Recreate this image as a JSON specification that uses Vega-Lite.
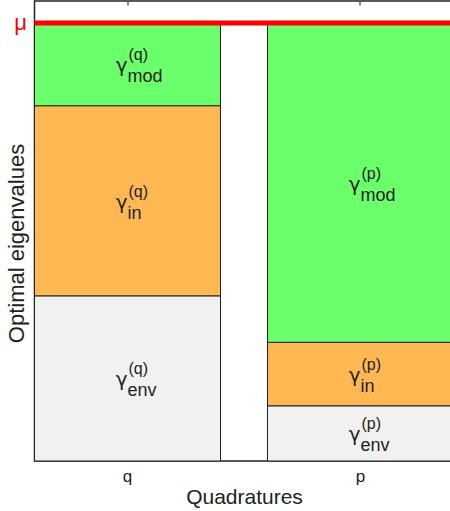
{
  "$schema": "https://vega.github.io/schema/vega-lite/v6.json",
  "width": 419,
  "height": 460,
  "autosize": "none",
  "padding": {"left": 34.5, "top": 1, "right": 0, "bottom": 50},
  "config": {
    "font": "Liberation Sans",
    "view": {"stroke": "#222", "strokeWidth": 1.5}
  },
  "datasets": {
    "parts": [
      {"quad": "q", "comp": "env", "order": 1, "value": 0.377, "sup": "(q)"},
      {"quad": "q", "comp": "in", "order": 2, "value": 0.434, "sup": "(q)"},
      {"quad": "q", "comp": "mod", "order": 3, "value": 0.189, "sup": "(q)"},
      {"quad": "p", "comp": "env", "order": 1, "value": 0.126, "sup": "(p)"},
      {"quad": "p", "comp": "in", "order": 2, "value": 0.145, "sup": "(p)"},
      {"quad": "p", "comp": "mod", "order": 3, "value": 0.729, "sup": "(p)"}
    ],
    "limit": [{"mu": 1}]
  },
  "resolve": {"axis": {"x": "independent"}},
  "layer": [
    {
      "data": {"name": "parts"},
      "transform": [
        {"stack": "value", "groupby": ["quad"], "sort": [{"field": "order", "order": "ascending"}], "as": ["v0", "v1"]}
      ],
      "mark": {"type": "bar", "stroke": "#222", "strokeWidth": 1},
      "encoding": {
        "x": {
          "field": "quad", "type": "nominal", "sort": ["q", "p"],
          "scale": {"paddingInner": 0.2017, "paddingOuter": 0},
          "axis": {
            "orient": "bottom", "title": "Quadratures", "domain": false,
            "ticks": false, "labelAngle": 0, "labelFontSize": 17, "labelColor": "#222",
            "labelPadding": 7, "titleFontSize": 21, "titleFontWeight": "normal",
            "titleColor": "#222", "titleBaseline": "alphabetic", "titleY": 42
          }
        },
        "y": {
          "field": "v0", "type": "quantitative",
          "scale": {"domain": [0, 1.05], "nice": false},
          "axis": {
            "orient": "left", "title": "Optimal eigenvalues", "values": [1], "labelExpr": "'μ'",
            "labelColor": "#ff0000", "labelFontSize": 22, "labelPadding": 8,
            "ticks": false, "domain": false, "grid": false,
            "titleFontSize": 22, "titleFontWeight": "normal", "titleColor": "#222",
            "titleX": -18, "titleY": 242, "titleAlign": "center", "titleBaseline": "middle"
          }
        },
        "y2": {"field": "v1"},
        "color": {
          "field": "comp", "type": "nominal",
          "scale": {"domain": ["env", "in", "mod"], "range": ["#f1f1f1", "#ffb852", "#6cff6c"]},
          "legend": null
        }
      }
    },
    {
      "data": {"name": "parts"},
      "transform": [
        {"stack": "value", "groupby": ["quad"], "sort": [{"field": "order", "order": "ascending"}], "as": ["v0", "v1"]},
        {"calculate": "(datum.v0 + datum.v1) / 2", "as": "mid"}
      ],
      "encoding": {
        "x": {
          "field": "quad", "type": "nominal", "sort": ["q", "p"],
          "axis": {"orient": "top", "labels": false, "domain": false, "tickSize": -4, "tickColor": "#222", "tickWidth": 1, "title": null}
        },
        "y": {
          "field": "mid", "type": "quantitative",
          "axis": {
            "orient": "left", "title": "Optimal eigenvalues", "values": [1], "labelExpr": "'μ'",
            "labelColor": "#ff0000", "labelFontSize": 22, "labelPadding": 8,
            "ticks": false, "domain": false, "grid": false,
            "titleFontSize": 22, "titleFontWeight": "normal", "titleColor": "#222",
            "titleX": -18, "titleY": 242, "titleAlign": "center", "titleBaseline": "middle"
          }
        }
      },
      "layer": [
        {
          "mark": {"type": "text", "text": "γ", "font": "DejaVu Sans", "fontSize": 20, "align": "right", "baseline": "alphabetic", "dx": 0, "dy": 8, "color": "#222"}
        },
        {
          "mark": {"type": "text", "fontSize": 16, "align": "left", "baseline": "alphabetic", "dx": 1, "dy": -4, "color": "#222"},
          "encoding": {"text": {"field": "sup"}}
        },
        {
          "mark": {"type": "text", "fontSize": 18, "align": "left", "baseline": "alphabetic", "dx": 0, "dy": 18, "color": "#222"},
          "encoding": {"text": {"field": "comp"}}
        }
      ]
    },
    {
      "data": {"name": "limit"},
      "mark": {"type": "rule", "color": "#ff0000", "strokeWidth": 5},
      "encoding": {
        "y": {
          "field": "mu", "type": "quantitative",
          "axis": {
            "orient": "left", "title": "Optimal eigenvalues", "values": [1], "labelExpr": "'μ'",
            "labelColor": "#ff0000", "labelFontSize": 22, "labelPadding": 8,
            "ticks": false, "domain": false, "grid": false,
            "titleFontSize": 22, "titleFontWeight": "normal", "titleColor": "#222",
            "titleX": -18, "titleY": 242, "titleAlign": "center", "titleBaseline": "middle"
          }
        }
      }
    }
  ]
}
